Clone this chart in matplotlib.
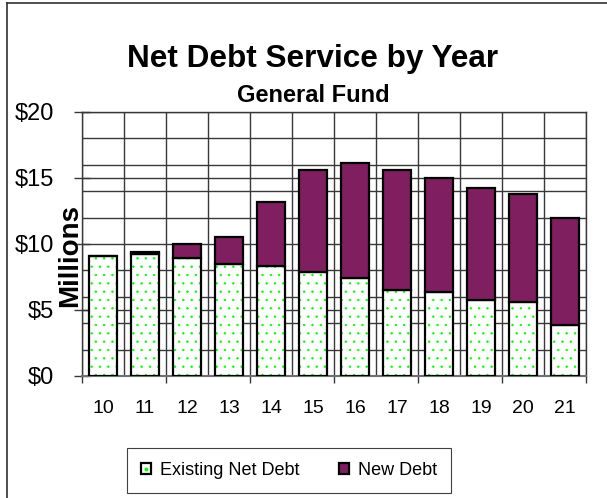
import matplotlib
matplotlib.use("Agg")
import matplotlib.pyplot as plt
import numpy as np
from matplotlib.patches import Patch
from matplotlib.lines import Line2D
from matplotlib.legend_handler import HandlerTuple

plt.rcParams['font.family'] = ['Liberation Sans', 'DejaVu Sans']
plt.rcParams['hatch.linewidth'] = 0.5

# data (millions of dollars)
years = ['10', '11', '12', '13', '14', '15', '16', '17', '18', '19', '20', '21']
existing = [9.1, 9.25, 8.95, 8.5, 8.35, 7.85, 7.4, 6.5, 6.35, 5.75, 5.6, 3.9]
new_debt = [0.0, 0.15, 1.05, 2.0, 4.85, 7.75, 8.7, 9.1, 8.65, 8.5, 8.2, 8.1]
yticks = [0, 5, 10, 15, 20]
ylabels = ['$0', '$5', '$10', '$15', '$20']

green = '#00ff00'
purple = '#7f1f5f'
gridc = '#383838'

fig = plt.figure(figsize=(6.07, 4.98), dpi=100)
ax = fig.add_axes([82/607, 1-376/498, 504/607, 264/498])

x = np.arange(len(years))
w = 0.67
existing = np.array(existing)
new_debt = np.array(new_debt)

# existing: white with green dots, then black outline
ax.bar(x, existing, w, color='white', edgecolor=green, linewidth=0, hatch='..', zorder=3)
ax.bar(x, existing, w, fill=False, edgecolor='black', linewidth=1.6, zorder=4)
ax.bar(x, new_debt, w, bottom=existing, color=purple, edgecolor='black', linewidth=1.6, zorder=4)

ax.set_xlim(-0.5, len(years)-0.5)
ax.set_ylim(0, 20)

# horizontal grid every 2 and every 5
ax.set_yticks(yticks)
ax.set_yticklabels(ylabels, fontsize=17)
ax.set_yticks(np.arange(0, 21, 2), minor=True)
ax.grid(axis='y', which='both', color=gridc, linewidth=1.0, zorder=0)
ax.tick_params(axis='y', which='major', direction='inout', length=12, width=1.0,
               color=gridc, pad=14)
ax.tick_params(axis='y', which='minor', length=0)

# vertical grid at category boundaries
for b in np.arange(-0.5, len(years), 1.0):
    ax.axvline(b, color=gridc, linewidth=1.0, zorder=0)

ax.set_xticks(x)
ax.set_xticklabels(years, fontsize=14)
ax.set_xticks(np.arange(-0.5, len(years), 2.0), minor=True)
ax.tick_params(axis='x', which='major', length=0, pad=17)
ax.tick_params(axis='x', which='minor', direction='out', length=5, width=1.0, color=gridc)

for s in ax.spines.values():
    s.set_color(gridc)
    s.set_linewidth(1.0)
ax.spines['bottom'].set_color('#707070')
ax.spines['bottom'].set_linewidth(1.5)
ax.set_axisbelow(True)

fig.text(313/607, 1-67/498, 'Net Debt Service by Year', ha='center', va='baseline',
         fontsize=22.7, fontweight='bold')
fig.text(313/607, 1-102/498, 'General Fund', ha='center', va='baseline',
         fontsize=17, fontweight='bold')
fig.text(70/607, 1-255/498, 'Millions', ha='center', va='center', rotation=90,
         fontsize=20, fontweight='bold')

# legend
h_exist = (Patch(facecolor='white', edgecolor='black', linewidth=1.6),
           Line2D([], [], marker='o', markersize=1.8, color=green, linestyle='none'))
h_new = Patch(facecolor=purple, edgecolor='black', linewidth=1.6)
leg = fig.legend([h_exist, h_new], ['Existing Net Debt', 'New Debt'],
                 handler_map={tuple: HandlerTuple(ndivide=1, pad=0)},
                 loc='center', bbox_to_anchor=(289/607, 1-470.5/498), ncol=2,
                 fontsize=13, handlelength=0.55, handleheight=0.55,
                 handletextpad=0.5, columnspacing=2.2, borderpad=0.75,
                 fancybox=False, framealpha=1)
leg.get_frame().set_edgecolor('#404040')
leg.get_frame().set_linewidth(0.8)

# outer chart frame (left and top edges visible)
fig.add_artist(Line2D([7/607, 7/607], [0, 1-3/498], color='#303030', linewidth=1.2,
                      transform=fig.transFigure))
fig.add_artist(Line2D([7/607, 1], [1-3/498, 1-3/498], color='#303030', linewidth=1.2,
                      transform=fig.transFigure))

fig.savefig('out.png', dpi=100)
